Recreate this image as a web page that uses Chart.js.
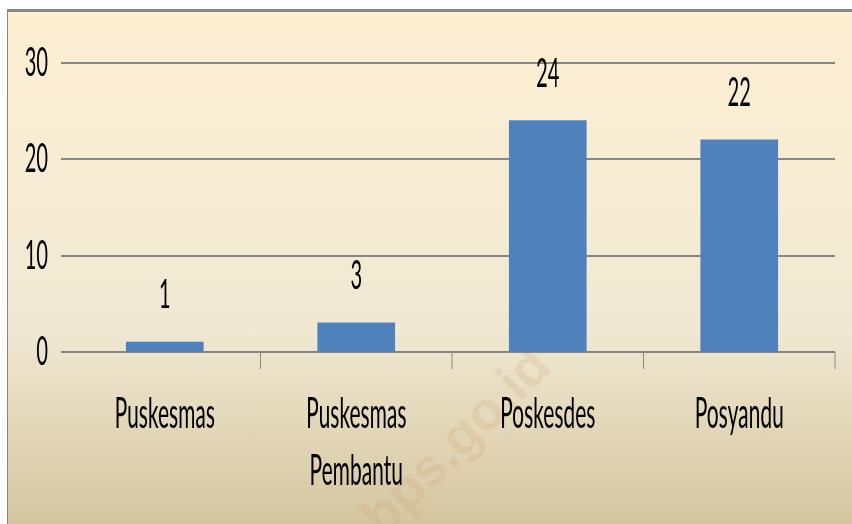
<!DOCTYPE html>
<html>
<head>
<meta charset="utf-8">
<script src="https://cdn.jsdelivr.net/npm/chart.js@4/dist/chart.umd.min.js"></script>
<style>
  html, body { margin: 0; padding: 0; background: #ffffff; }
  body { width: 852px; height: 524px; position: relative; overflow: hidden; }
  #bg {
    position: absolute; left: 7px; top: 9px; width: 845px; height: 515px;
    box-sizing: border-box;
    border-top: 3px solid #878787; border-left: 1px solid #878787;
    background: linear-gradient(to bottom, #FDEED2 0%, #F6ECD3 35%, #F0E8D3 62%, #E4D8BA 80%, #D5C6A1 100%);
  }
  #wm {
    position: absolute; left: 455px; top: 440px;
    transform: translate(-50%, -50%) rotate(-45deg);
    font-family: "Liberation Sans", Arial, sans-serif; font-weight: bold; font-size: 54px;
    color: rgba(200, 150, 90, 0.17); white-space: nowrap; pointer-events: none;
  }
  #wrap {
    position: absolute; left: 0; top: 0; width: 852px; height: 262px;
    transform: scaleY(2); transform-origin: 0 0;
  }
</style>
</head>
<body>
<div id="bg"></div>
<div id="wm">bps.go.id</div>
<div id="wrap"><canvas id="c"></canvas></div>
<script>
const categories = [["Puskesmas"], ["Puskesmas", "Pembantu"], ["Poskesdes"], ["Posyandu"]];
const values = [1, 3, 24, 22];
const yTicks = [0, 10, 20, 30];

const FONT = { family: "Lato, 'Liberation Sans', sans-serif", size: 20 };
const XFONT = { family: "Lato, 'Liberation Sans', sans-serif", size: 21, lineHeight: 1.38 };
const GRID = "#868686";

const valueLabels = {
  id: "valueLabels",
  afterDatasetsDraw(chart) {
    const ctx = chart.ctx;
    const meta = chart.getDatasetMeta(0);
    ctx.save();
    ctx.font = FONT.size + "px " + FONT.family;
    ctx.fillStyle = "#000";
    ctx.textAlign = "center";
    ctx.textBaseline = "alphabetic";
    meta.data.forEach((bar, i) => {
      ctx.fillText(String(values[i]), bar.x, bar.y - 17);
    });
    ctx.restore();
  }
};

new Chart(document.getElementById("c"), {
  type: "bar",
  data: {
    labels: categories,
    datasets: [{
      data: values,
      backgroundColor: "#4F81BD",
      borderWidth: 0,
      barThickness: 77
    }]
  },
  options: {
    responsive: true,
    maintainAspectRatio: false,
    devicePixelRatio: 2,
    animation: false,
    layout: { padding: { top: 31.5, right: 17, left: 0, bottom: 0 } },
    plugins: { legend: { display: false }, tooltip: { enabled: false } },
    scales: {
      y: {
        min: 0, max: 30,
        afterBuildTicks(scale) { scale.ticks = yTicks.map(v => ({ value: v })); },
        afterFit(scale) { scale.width = 69; },
        border: { display: false },
        grid: { color: GRID, lineWidth: 1, drawTicks: true, tickLength: 8 },
        ticks: { font: FONT, color: "#000", padding: 13 }
      },
      x: {
        afterFit(scale) { scale.height = 86; },
        border: { display: false },
        grid: {
          offset: true,
          drawOnChartArea: false,
          drawTicks: true,
          tickLength: 8.5,
          lineWidth: 1,
          color: (c) => (c.index === 0 ? "rgba(0,0,0,0)" : GRID)
        },
        ticks: {
          font: XFONT,
          color: "#000",
          maxRotation: 0,
          autoSkip: false,
          padding: 8
        }
      }
    }
  },
  plugins: [valueLabels]
});
</script>
</body>
</html>
